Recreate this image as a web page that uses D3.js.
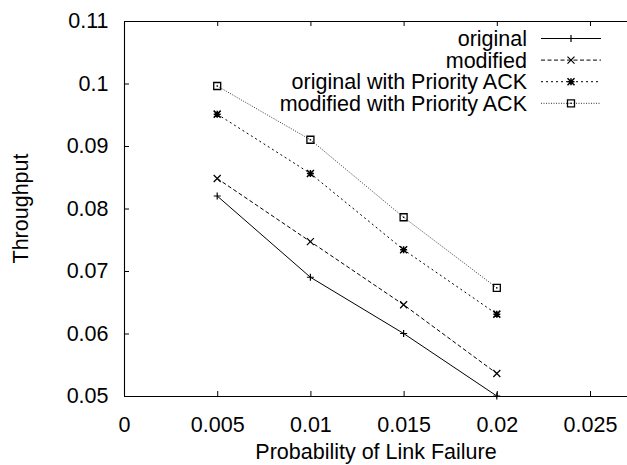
<!DOCTYPE html>
<html>
<head>
<meta charset="utf-8">
<script src="https://cdn.jsdelivr.net/npm/d3@7"></script>
<style>
  html, body { margin: 0; padding: 0; background: #fff; }
  svg { display: block; }
  text { font-family: "Liberation Sans", Arial, Helvetica, sans-serif; fill: #000; }
</style>
</head>
<body>
<svg id="chart" width="627" height="465"></svg>
<script>
// ---- data ----
const xValues = [0.005, 0.01, 0.015, 0.02];
const seriesNames = ["original", "modified", "original with Priority ACK", "modified with Priority ACK"];
const original = [0.0820, 0.0690, 0.0600, 0.0500];
const modified = [0.0848, 0.0747, 0.0646, 0.0536];
const originalPriority = [0.0951, 0.0856, 0.0734, 0.0631];
const modifiedPriority = [0.0996, 0.0910, 0.0786, 0.0673];
const xTicks = [0, 0.005, 0.01, 0.015, 0.02, 0.025];
const xTickLabels = ["0", "0.005", "0.01", "0.015", "0.02", "0.025"];
const yTicks = [0.05, 0.06, 0.07, 0.08, 0.09, 0.1, 0.11];
const yTickLabels = ["0.05", "0.06", "0.07", "0.08", "0.09", "0.1", "0.11"];
const xTitle = "Probability of Link Failure";
const yTitle = "Throughput";

const seriesValues = [original, modified, originalPriority, modifiedPriority];
const dashes = [null, "4,2.5", "2,3", "1,1.5"];
const strokes = ["#000", "#000", "#000", "#333"];
const markers = ["plus", "cross", "star", "box"];

const svg = d3.select("#chart");
const pLeft = 124, pRight = 627.3, pTop = 21, pBottom = 396;
const fs = 21.5;

const x = d3.scaleLinear().domain([0, 0.027]).range([pLeft, pRight]);
const y = d3.scaleLinear().domain([0.05, 0.11]).range([pBottom, pTop]);

// axes (inward ticks)
const xAxis = d3.axisBottom(x).tickValues(xTicks).tickSize(-5).tickSizeOuter(0)
  .tickFormat((d, i) => xTickLabels[i]);
const gx = svg.append("g").attr("transform", `translate(0,${pBottom})`).call(xAxis);
gx.selectAll("text").attr("font-size", fs).attr("dy", "0.71em").attr("y", 20.5);

const xTopAxis = d3.axisTop(x).tickValues(xTicks).tickSize(-5).tickSizeOuter(0).tickFormat("");
svg.append("g").attr("transform", `translate(0,${pTop})`).call(xTopAxis);

const yAxis = d3.axisLeft(y).tickValues(yTicks).tickSize(-5).tickSizeOuter(0)
  .tickFormat((d, i) => yTickLabels[i]);
const gy = svg.append("g").attr("transform", `translate(${pLeft},0)`).call(yAxis);
gy.selectAll("text").attr("font-size", fs).attr("x", -15.5);

svg.selectAll(".domain").attr("stroke", "#000").attr("stroke-width", 1.1);
svg.selectAll(".tick line").attr("stroke", "#000").attr("stroke-width", 1);
svg.selectAll(".tick text").attr("fill", "#000").attr("font-family", '"Liberation Sans", Arial, sans-serif');

// axis titles
svg.append("text").attr("x", 376).attr("y", 459).attr("text-anchor", "middle")
  .attr("font-size", fs).text(xTitle);
svg.append("text").attr("transform", `translate(28,${(pTop + pBottom) / 2}) rotate(-90)`)
  .attr("text-anchor", "middle").attr("font-size", fs).text(yTitle);

// marker drawing
function drawMarker(g, type, cx, cy) {
  const s = 3.5;
  const p = g.append("path").attr("fill", "none").attr("stroke", "#000").attr("stroke-width", 1.2);
  if (type === "plus") {
    p.attr("d", `M${cx - s},${cy}H${cx + s}M${cx},${cy - s}V${cy + s}`);
  } else if (type === "cross") {
    p.attr("d", `M${cx - s},${cy - s}L${cx + s},${cy + s}M${cx - s},${cy + s}L${cx + s},${cy - s}`);
  } else if (type === "star") {
    p.attr("stroke-width", 1.5).attr("d",
      `M${cx - s},${cy}H${cx + s}M${cx},${cy - s}V${cy + s}M${cx - s},${cy - s}L${cx + s},${cy + s}M${cx - s},${cy + s}L${cx + s},${cy - s}`);
  } else if (type === "box") {
    p.attr("stroke-width", 1.3).attr("d", `M${cx - s},${cy - s}H${cx + s}V${cy + s}H${cx - s}Z`);
    g.append("rect").attr("x", cx - 0.7).attr("y", cy - 0.7).attr("width", 1.4).attr("height", 1.4).attr("fill", "#000");
  }
}

// series
const line = d3.line().x(d => x(d[0])).y(d => y(d[1]));
seriesValues.forEach((vals, si) => {
  const pts = xValues.map((xv, i) => [xv, vals[i]]);
  const g = svg.append("g");
  g.append("path").datum(pts).attr("d", line).attr("fill", "none")
    .attr("stroke", strokes[si]).attr("stroke-width", 1)
    .attr("stroke-dasharray", dashes[si]);
  pts.forEach(p => drawMarker(g, markers[si], x(p[0]), y(p[1])));
});

// legend
const legY0 = 38.5, legDy = 21.6;
seriesNames.forEach((name, i) => {
  const ly = legY0 + i * legDy;
  const g = svg.append("g");
  g.append("text").attr("x", 527).attr("y", ly).attr("dy", "0.36em")
    .attr("text-anchor", "end").attr("font-size", fs).text(name);
  g.append("line").attr("x1", 541).attr("x2", 601).attr("y1", ly).attr("y2", ly)
    .attr("stroke", strokes[i]).attr("stroke-width", 1).attr("stroke-dasharray", dashes[i]);
  drawMarker(g, markers[i], 571, ly);
});
</script>
</body>
</html>
